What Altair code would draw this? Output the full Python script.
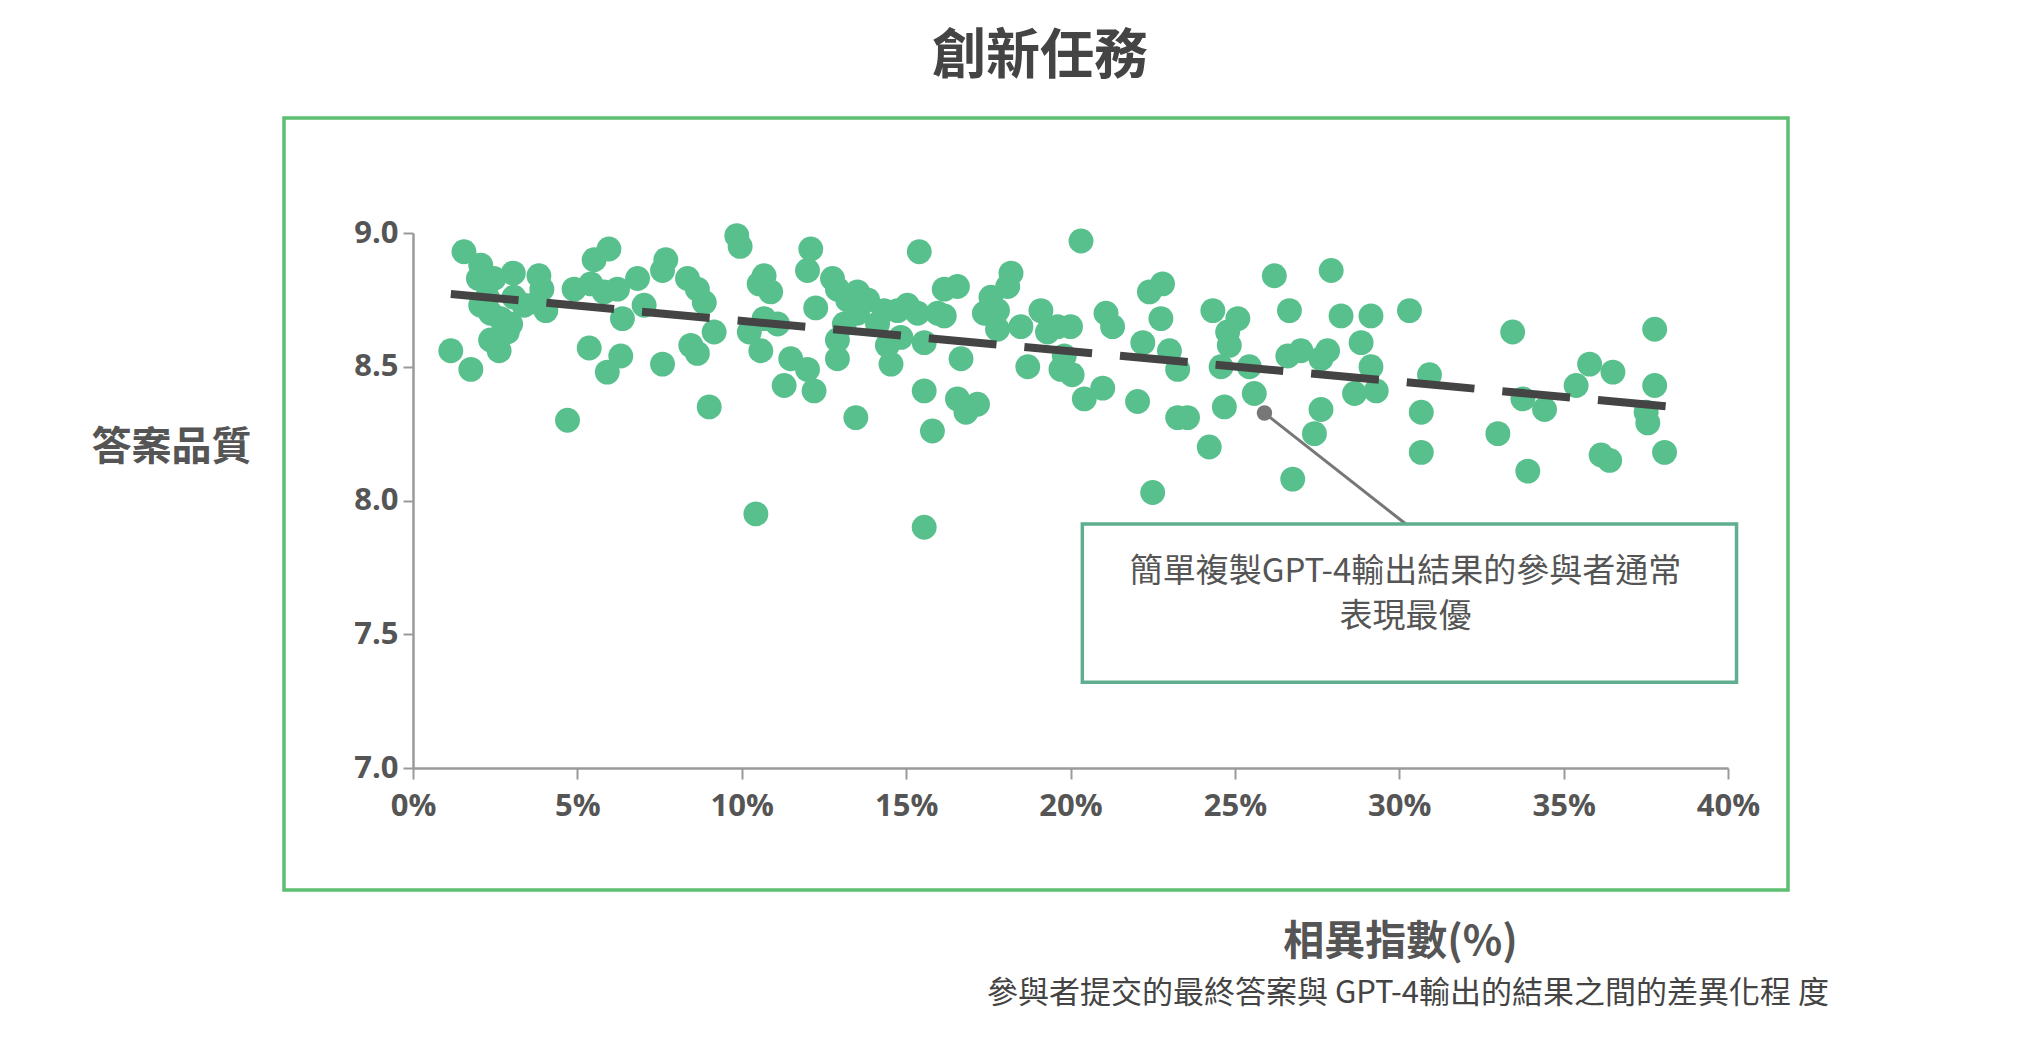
import altair as alt
import pandas as pd

# ---- data ----
diff_pct = [
    1.55, 2.06, 1.99, 2.46, 3.05, 3.83, 3.92, 2.06, 2.36, 2.67, 2.87, 2.57, 3.38, 3.78, 4.04,
    1.15, 1.76, 4.70, 4.90, 5.51, 5.96, 5.41, 5.81, 6.22, 5.36, 6.32, 5.91, 6.37, 6.83, 7.03,
    7.69, 7.59, 7.59, 8.35, 8.65, 8.86, 9.16, 8.65, 9.01, 9.85, 9.95, 2.26, 3.07, 2.97, 2.36,
    2.62, 8.45,
    10.68, 10.88, 10.53, 10.68, 11.09, 10.23, 10.58, 11.49, 12.00, 11.29, 12.20, 12.10, 12.00,
    12.25, 12.76, 12.91, 13.22, 13.52, 13.83, 13.12, 12.91, 12.91, 13.52, 14.33, 14.43, 14.54,
    14.74, 15.04, 15.35, 15.55, 15.40, 13.47, 15.55, 15.80, 16.56, 17.17, 16.82, 16.16, 16.56,
    16.16, 16.67, 17.38, 17.58, 17.78, 18.19, 18.09, 18.49, 19.10, 18.70, 19.61, 19.30, 19.71,
    19.81, 10.43, 15.55, 14.13, 14.84, 15.96, 17.78,
    20.32, 21.08, 21.28, 20.05, 20.00, 20.42, 20.98, 22.04, 22.40, 22.80, 22.75, 22.20, 23.01,
    23.26, 23.26, 23.56, 22.50, 24.22, 24.33, 25.09, 24.78, 24.83, 24.58, 25.44, 24.68, 25.59,
    26.20, 26.66, 26.61, 27.01, 27.62, 27.42, 26.76, 27.93, 27.82, 28.23, 29.14, 28.84, 29.14,
    28.64, 29.30, 27.62,
    30.31, 30.92, 30.67, 30.67, 33.45, 33.00, 33.76, 34.42, 33.91, 35.38, 35.79, 36.50, 36.14,
    36.40, 37.77, 37.77, 37.51, 37.56, 38.07,
]
quality = [
    8.93, 8.88, 8.83, 8.83, 8.85, 8.84, 8.79, 8.73, 8.70, 8.68, 8.63, 8.58, 8.73, 8.74, 8.71,
    8.56, 8.49, 8.30, 8.79, 8.90, 8.94, 8.81, 8.78, 8.79, 8.57, 8.54, 8.48, 8.68, 8.83, 8.73,
    8.90, 8.86, 8.51, 8.83, 8.79, 8.74, 8.63, 8.55, 8.35, 8.99, 8.95, 8.76, 8.76, 8.66, 8.60,
    8.56, 8.58,
    8.84, 8.78, 8.81, 8.68, 8.66, 8.63, 8.56, 8.53, 8.49, 8.43, 8.41, 8.94, 8.86,
    8.72, 8.83, 8.79, 8.75, 8.78, 8.75, 8.66, 8.60, 8.53, 8.70, 8.71, 8.58, 8.51,
    8.71, 8.73, 8.70, 8.59, 8.93, 8.31, 8.41, 8.26, 8.38, 8.36, 8.33, 8.79, 8.80,
    8.69, 8.53, 8.70, 8.76, 8.64, 8.85, 8.80, 8.65, 8.71, 8.50, 8.65, 8.63, 8.49,
    8.54, 7.95, 7.90, 8.66, 8.61, 8.70, 8.71,
    8.97, 8.70, 8.65, 8.47, 8.65, 8.38, 8.42, 8.37, 8.78, 8.81, 8.68, 8.59, 8.56,
    8.49, 8.31, 8.31, 8.03, 8.20, 8.71, 8.68, 8.63, 8.58, 8.50, 8.50, 8.35, 8.40,
    8.84, 8.71, 8.54, 8.56, 8.34, 8.25, 8.08, 8.86, 8.56, 8.69, 8.69, 8.59, 8.50,
    8.40, 8.41, 8.53,
    8.71, 8.47, 8.33, 8.18, 8.63, 8.25, 8.38, 8.34, 8.11, 8.43, 8.51, 8.48, 8.17,
    8.15, 8.64, 8.43, 8.33, 8.29, 8.18,
]
trend_x = [1.15, 38.12]
trend_y = [8.772, 8.352]
x_ticks = [0, 5, 10, 15, 20, 25, 30, 35, 40]
y_ticks = [7.0, 7.5, 8.0, 8.5, 9.0]

title_text = "創新任務"
y_title = "答案品質"
x_title = "相異指數(%)"
x_subtitle = "參與者提交的最終答案與 GPT-4輸出的結果之間的差異化程 度"
note_lines = ["簡單複製GPT-4輸出結果的參與者通常", "表現最優"]

# ---- layout ----
W, H = 1315, 535
CJK = "Noto Sans CJK TC"
TEXT = "#555555"

xs = alt.Scale(domain=[0, 40], nice=False, zero=False)
ys = alt.Scale(domain=[7, 9], nice=False, zero=False)

pts = pd.DataFrame({"x": diff_pct, "y": quality})
trend = pd.DataFrame({"x": trend_x, "y": trend_y})
one = pd.DataFrame({"k": [0]})

frame = alt.Chart(one).mark_rect(
    fill="white", fillOpacity=0, stroke="#5cbf72", strokeWidth=3.5
).encode(
    x=alt.value(-129), x2=alt.value(1375), y=alt.value(-115), y2=alt.value(657)
)

points = alt.Chart(pts).mark_circle(size=620, color="#58c08c", opacity=1).encode(
    x=alt.X(
        "x:Q", scale=xs,
        axis=alt.Axis(
            values=x_ticks, labelExpr="datum.value + '%'", title=x_title,
            titleX=987, titleY=174, titleAlign="center", titleBaseline="middle",
            titleFontSize=41, tickSize=11, labelPadding=12, labelFlush=False,
        ),
    ),
    y=alt.Y(
        "y:Q", scale=ys,
        axis=alt.Axis(
            values=y_ticks, format=".1f", title=y_title, titleAngle=0,
            titleX=-242, titleY=214, titleAlign="center", titleBaseline="middle",
            titleFontSize=40, tickSize=10, labelPadding=5, labelFlush=False,
        ),
    ),
)

trend_line = alt.Chart(trend).mark_line(
    color="#444444", strokeWidth=8, strokeDash=[68, 28]
).encode(x=alt.X("x:Q", scale=xs), y=alt.Y("y:Q", scale=ys))

note_df = pd.DataFrame({
    "px": [25.90], "py": [8.327], "lx": [30.2], "ly": [7.912],
    "bx": [20.36], "bx2": [40.26], "by": [7.912], "by2": [7.321],
})
note_text_df = pd.DataFrame({
    "tx": [30.19, 30.19], "ty": [7.731, 7.563], "t": note_lines,
})

note_box = alt.Chart(note_df).mark_rect(
    fill="white", stroke="#5fae8f", strokeWidth=3.5
).encode(
    x=alt.X("bx:Q", scale=xs), x2="bx2:Q", y=alt.Y("by:Q", scale=ys), y2="by2:Q"
)
note_line = alt.Chart(note_df).mark_rule(color="#777777", strokeWidth=3).encode(
    x=alt.X("px:Q", scale=xs), x2="lx:Q", y=alt.Y("py:Q", scale=ys), y2="ly:Q"
)
note_dot = alt.Chart(note_df).mark_circle(size=240, color="#777777", opacity=1).encode(
    x=alt.X("px:Q", scale=xs), y=alt.Y("py:Q", scale=ys)
)
note_txt = alt.Chart(note_text_df).mark_text(
    font=CJK, fontSize=33, color=TEXT, align="center", baseline="middle"
).encode(x=alt.X("tx:Q", scale=xs), y=alt.Y("ty:Q", scale=ys), text="t:N")

title_mark = alt.Chart(one).mark_text(
    text=title_text, font=CJK, fontSize=54, fontWeight="bold", color="#444444",
    align="center", baseline="middle"
).encode(x=alt.value(627), y=alt.value(-175))

subtitle_mark = alt.Chart(one).mark_text(
    text=x_subtitle, font=CJK, fontSize=31, color="#444444",
    align="center", baseline="middle"
).encode(x=alt.value(995), y=alt.value(761))

chart = alt.layer(
    frame, points, trend_line, note_line, note_box, note_dot, note_txt,
    title_mark, subtitle_mark
).properties(
    width=W, height=H,
    autosize=alt.AutoSizeParams(type="none"),
    padding={"left": 405, "top": 225, "right": 270, "bottom": 260},
).configure_view(strokeWidth=0).configure_axis(
    grid=False, domainColor="#9a9a9a", domainWidth=2.5, tickColor="#9a9a9a",
    tickWidth=2, labelFont="Open Sans", labelFontWeight="bold", labelFontSize=31,
    labelColor=TEXT, titleFont=CJK, titleFontWeight="bold", titleColor=TEXT,
)

chart.save("out.html", embed_options={"renderer": "svg", "actions": False})
